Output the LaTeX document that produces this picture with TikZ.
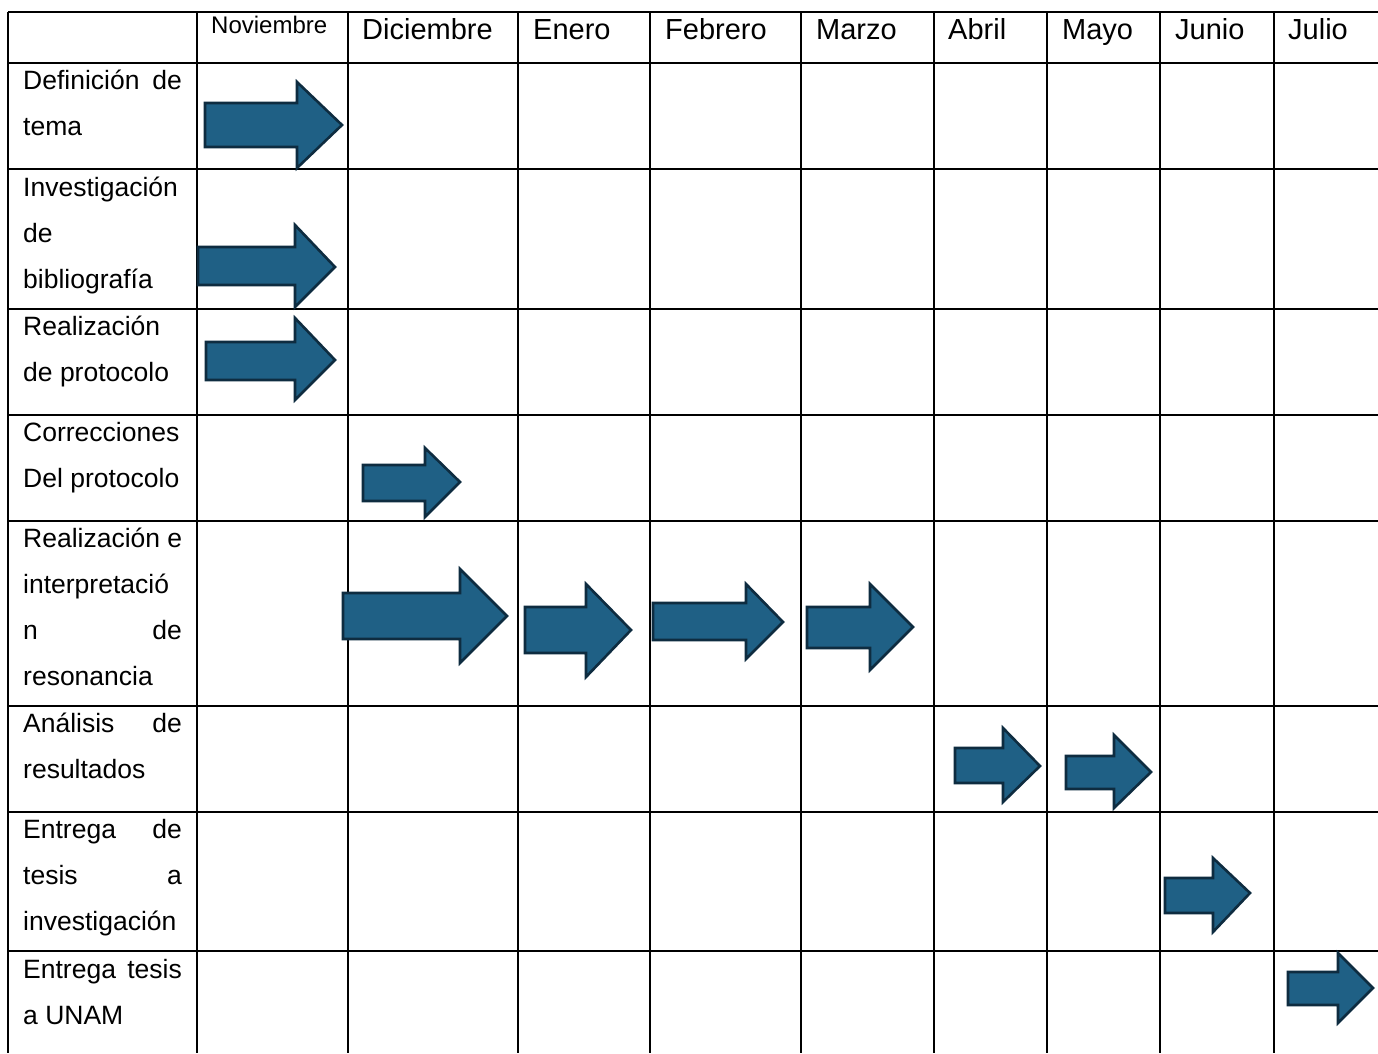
\documentclass[tikz,border=0pt]{standalone}
\usepackage{fontspec}
\setmainfont{Liberation Sans}
\definecolor{arrfill}{RGB}{31,96,133}
\definecolor{arrline}{RGB}{14,44,64}
\newcommand\garr[8]{\draw[arrowsty] (#1,#2) -- (#4,#2) -- (#4,#5) -- (#7,#8) -- (#4,#6) -- (#4,#3) -- (#1,#3) -- cycle;}
\begin{document}
\begin{tikzpicture}[x=1pt,y=-1pt,
  grid/.style={line width=2.5pt,black},
  arrowsty/.style={fill=arrfill,draw=arrline,line width=2.6pt,line join=miter},
  bodyL/.style={anchor=base west,inner sep=0pt,font=\fontsize{26.5}{30}\selectfont},
  bodyR/.style={anchor=base east,inner sep=0pt,font=\fontsize{26.5}{30}\selectfont},
  head/.style={anchor=base west,inner sep=0pt,font=\fontsize{29}{33}\selectfont},
  headsmall/.style={anchor=base west,inner sep=0pt,font=\fontsize{24}{28}\selectfont}]
\useasboundingbox[fill=white] (0,0) rectangle (1378,1053);
% grid
\foreach \x in {8,197,348,518,650,801,934,1047,1160,1274}
  \draw[grid] (\x,12) -- (\x,1053);
\foreach \y in {12,63,169,309,415,521,706,812,951}
  \draw[grid] (8,\y) -- (1378,\y);
% headers
\node[headsmall] (hnov) at (211,33) {Noviembre};
\node[head] (hdic) at (362,39) {Diciembre};
\node[head] (hene) at (533,39) {Enero};
\node[head] (hfeb) at (665,39) {Febrero};
\node[head] (hmar) at (816,39) {Marzo};
\node[head] (habr) at (948,39) {Abril};
\node[head] (hmay) at (1062,39) {Mayo};
\node[head] (hjun) at (1175,39) {Junio};
\node[head] (hjul) at (1288,39) {Julio};
% row labels
\node[bodyL] (r1a) at (23,89) {Definición};
\node[bodyR] (r1b) at (182,89) {de};
\node[bodyL] (r1c) at (23,135) {tema};
\node[bodyL] (r2a) at (23,196) {Investigación};
\node[bodyL] (r2b) at (23,242) {de};
\node[bodyL] (r2c) at (23,288) {bibliografía};
\node[bodyL] (r3a) at (23,335) {Realización};
\node[bodyL] (r3b) at (23,381) {de protocolo};
\node[bodyL] (r4a) at (23,441) {Correcciones};
\node[bodyL] (r4b) at (23,487) {Del protocolo};
\node[bodyL] (r5a) at (23,547) {Realización e};
\node[bodyL] (r5b) at (23,593) {interpretació};
\node[bodyL] (r5c) at (23,639) {n};
\node[bodyR] (r5d) at (182,639) {de};
\node[bodyL] (r5e) at (23,685) {resonancia};
\node[bodyL] (r6a) at (23,732) {Análisis};
\node[bodyR] (r6b) at (182,732) {de};
\node[bodyL] (r6c) at (23,778) {resultados};
\node[bodyL] (r7a) at (23,838) {Entrega};
\node[bodyR] (r7b) at (182,838) {de};
\node[bodyL] (r7c) at (23,884) {tesis};
\node[bodyR] (r7d) at (182,884) {a};
\node[bodyL] (r7e) at (23,930) {investigación};
\node[bodyL] (r8a) at (23,978) {Entrega};
\node[bodyR] (r8b) at (182,978) {tesis};
\node[bodyL] (r8c) at (23,1024) {a UNAM};
% arrows
\garr{205}{103}{147}{297}{82}{168}{342}{125}
\garr{198}{247}{285}{295}{225}{307}{335}{267}
\garr{206}{342}{380}{295}{318}{400}{335}{360}
\garr{363}{465}{501}{425}{448}{517}{460}{482}
\garr{343}{593}{639}{460}{569}{663}{507}{616}
\garr{525}{607}{653}{586}{584}{677}{631}{630}
\garr{653}{603}{640}{746}{584}{659}{783}{622}
\garr{807}{607}{648}{870}{584}{670}{913}{627}
\garr{955}{748}{783}{1003}{728}{802}{1040}{766}
\garr{1066}{756}{789}{1114}{735}{808}{1151}{772}
\garr{1165}{878}{913}{1213}{858}{932}{1250}{893}
\garr{1288}{972}{1005}{1338}{953}{1023}{1373}{988}
\end{tikzpicture}
\end{document}
